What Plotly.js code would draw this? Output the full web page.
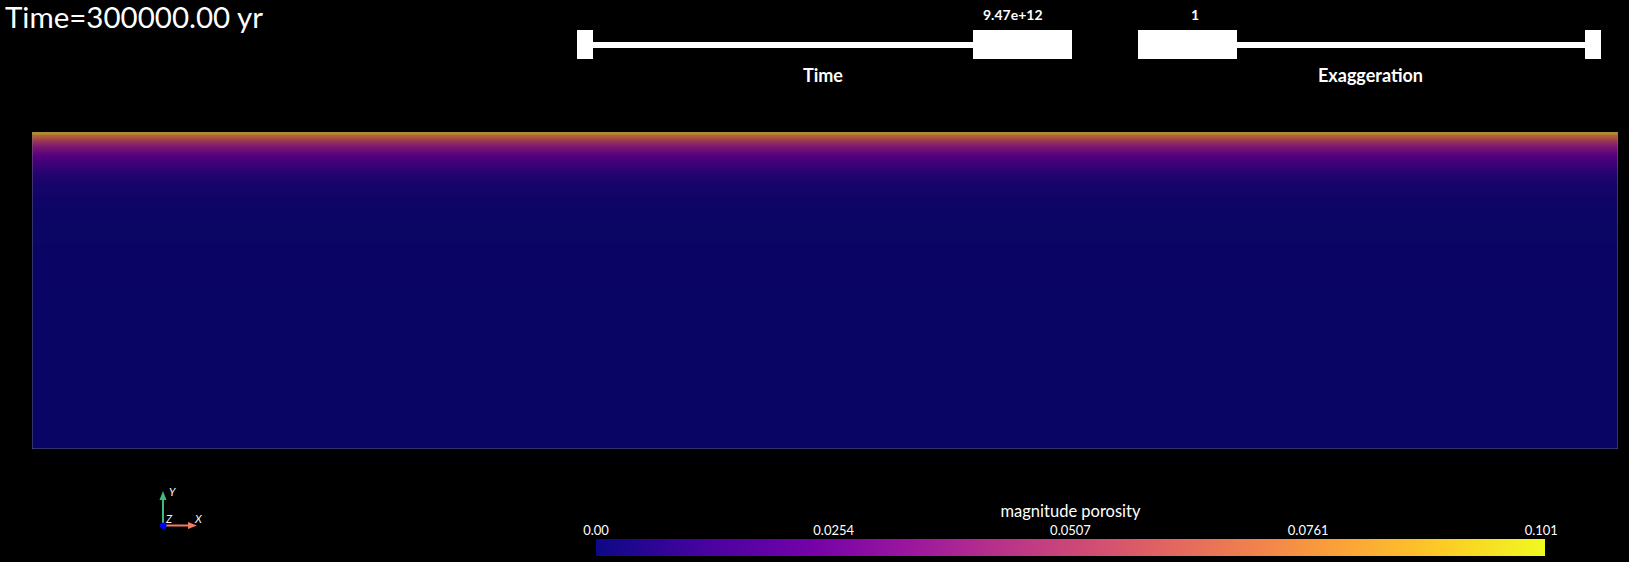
<!DOCTYPE html>
<html>
<head>
<meta charset="utf-8">
<script src="https://cdn.plot.ly/plotly-3.0.1.min.js"></script>
<style>
html,body{margin:0;padding:0;background:#000;overflow:hidden;}
#chart{width:1629px;height:562px;}
</style>
</head>
<body>
<div id="chart"></div>
<script>
// ---- data ----
// depth below surface (m) and magnitude porosity (laterally uniform field)
const depth = [0, 5, 10, 20, 35, 50, 70, 90, 115, 140, 170, 200, 240, 280, 330, 400, 500, 700, 1000, 1500, 2000];
const porosity = [0.093, 0.087, 0.081, 0.072, 0.062, 0.054, 0.045, 0.038, 0.031, 0.025, 0.019, 0.014, 0.0095, 0.0063, 0.0037, 0.0019, 0.0008, 0.0003, 0.0001, 0.00003, 0.0];
const xEdges = [0, 10000];
const cbTickVals = [0.0, 0.0254, 0.0507, 0.0761, 0.101];
const cbTickText = ["0.00", "0.0254", "0.0507", "0.0761", "0.101"];
const cbRange = [0, 0.1014];
const timeLabel = "Time=300000.00 yr";
const timeValue = "9.47e+12";
const exaggerationValue = "1";

// ---- layout helpers ----
const W = 1629, H = 562;
const px = x => x / W;
const py = y => 1 - y / H;

const yVals = depth.map(d => -d);
const z = porosity.map(v => xEdges.map(() => v));

const plasma = [
  [0.0, '#0d0887'], [0.111, '#46039f'], [0.222, '#7201a8'], [0.333, '#9c179e'],
  [0.444, '#bd3786'], [0.556, '#d8576b'], [0.667, '#ed7953'], [0.778, '#fb9f3a'],
  [0.889, '#fdca26'], [1.0, '#f0f921']
];

const CB_L = 596, CB_R = 1545, CB_T = 539, CB_B = 556;

const heat = {
  type: 'heatmap',
  x: xEdges, y: yVals, z: z,
  colorscale: plasma, zmin: cbRange[0], zmax: cbRange[1],
  zsmooth: 'best', hoverinfo: 'skip',
  colorbar: {
    orientation: 'h', x: px((CB_L + CB_R) / 2), xanchor: 'center',
    lenmode: 'pixels', len: CB_R - CB_L, thicknessmode: 'pixels', thickness: CB_B - CB_T,
    y: py(CB_B), yanchor: 'bottom', ypad: 0, xpad: 0,
    outlinewidth: 0, showticklabels: false, ticks: ''
  }
};

const white = '#ffffff';
const font = 'Lato, "Open Sans", sans-serif';

function rect(x0, y0, x1, y1, color) {
  return {type: 'rect', xref: 'paper', yref: 'paper', x0: px(x0), x1: px(x1), y0: py(y1), y1: py(y0),
    fillcolor: color, line: {width: 0}, layer: 'above'};
}
function line(x0, y0, x1, y1, color, w) {
  return {type: 'line', xref: 'paper', yref: 'paper', x0: px(x0), x1: px(x1), y0: py(y0), y1: py(y1),
    line: {color: color, width: w}, layer: 'above'};
}
function tri(pts, color) {
  const p = 'M' + pts.map(q => px(q[0]) + ',' + py(q[1])).join(' L') + ' Z';
  return {type: 'path', xref: 'paper', yref: 'paper', path: p, fillcolor: color, line: {width: 0}, layer: 'above'};
}

const shapes = [
  // lighting dim over the surface
  {type: 'rect', xref: 'x', yref: 'y', x0: xEdges[0], x1: xEdges[1], y0: -depth[depth.length-1], y1: 0,
   fillcolor: 'rgba(0,0,0,0.26)', line: {color: 'rgba(120,120,120,0.8)', width: 1}, layer: 'above'},
  // Time slider
  rect(577, 30, 593, 59, white), rect(593, 42, 973, 48, white), rect(973, 30, 1072, 59, white),
  // Exaggeration slider
  rect(1138, 30, 1237, 59, white), rect(1237, 42, 1585, 48, white), rect(1585, 30, 1601, 59, white),
  // axes triad
  line(163, 525, 163, 499, '#3dbd7d', 2),
  tri([[163, 491], [159.5, 500], [166.5, 500]], '#3dbd7d'),
  line(163, 525.5, 189, 525.5, '#f47b5e', 2),
  tri([[197, 525.5], [188, 522], [188, 529]], '#f47b5e'),
  {type: 'circle', xref: 'paper', yref: 'paper', x0: px(160), x1: px(166.5), y0: py(529), y1: py(522.5),
   fillcolor: '#0000ff', line: {width: 0}, layer: 'above'}
];

function ann(text, x, y, size, opts) {
  return Object.assign({text: text, xref: 'paper', yref: 'paper', x: px(x), y: py(y), showarrow: false,
    xanchor: 'center', yanchor: 'middle', font: {family: font, size: size, color: white}}, opts || {});
}

const annotations = [
  ann(timeLabel, 3, 17, 29.5, {xanchor: 'left'}),
  ann('<b>' + timeValue + '</b>', 1013, 15, 14),
  ann('<b>Time</b>', 823, 75, 18),
  ann('<b>' + exaggerationValue + '</b>', 1195, 15, 14),
  ann('<b>Exaggeration</b>', 1370, 75, 18),
  ann('<i>Y</i>', 172, 491, 11),
  ann('<i>Z</i>', 169, 518, 11),
  ann('<i>X</i>', 198, 518, 11)
];

const layout = {
  width: W, height: H,
  paper_bgcolor: '#000', plot_bgcolor: '#000',
  margin: {l: 0, r: 0, t: 0, b: 0, pad: 0},
  showlegend: false,
  xaxis: {domain: [px(32), px(1618)], range: xEdges, visible: false, fixedrange: true},
  yaxis: {domain: [py(449), py(132)], range: [-depth[depth.length-1], 0], visible: false, fixedrange: true},
  xaxis2: {domain: [px(CB_L), px(CB_R)], anchor: 'y2', range: cbRange, side: 'top',
    tickvals: cbTickVals, ticktext: cbTickText, ticks: '', showgrid: false, zeroline: false, showline: false,
    tickfont: {family: font, size: 13, color: white}, fixedrange: true,
    title: {text: 'magnitude porosity', font: {family: font, size: 16.5, color: white}, standoff: 0}},
  yaxis2: {domain: [py(CB_B), py(CB_T)], anchor: 'x2', range: [0, 1], visible: false, fixedrange: true},
  shapes: shapes,
  annotations: annotations
};

// invisible carrier trace that activates the colorbar label axis
const axisCarrier = {type: 'scatter', x: cbRange, y: [0.5, 0.5], xaxis: 'x2', yaxis: 'y2', mode: 'none', hoverinfo: 'skip', showlegend: false};

Plotly.newPlot('chart', [heat, axisCarrier], layout, {displayModeBar: false, staticPlot: true});
</script>
</body>
</html>
